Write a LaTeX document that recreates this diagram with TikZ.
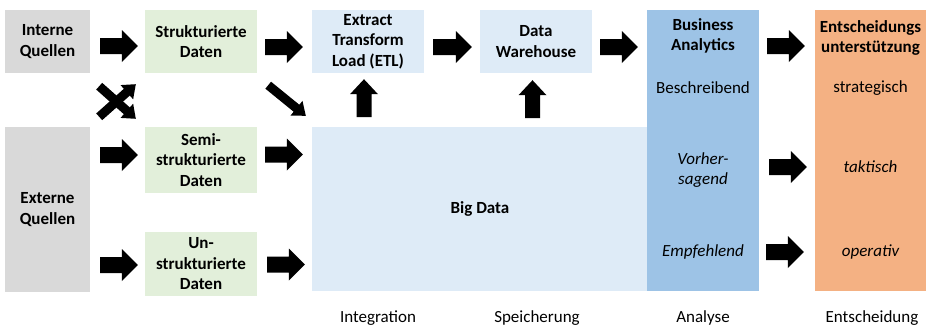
\documentclass[tikz,border=0pt]{standalone}
\usepackage{fontspec}
\setmainfont{Carlito}
\usetikzlibrary{calc}
\definecolor{grayb}{HTML}{D9D9D9}
\definecolor{greenb}{HTML}{E2EFDA}
\definecolor{blueb}{HTML}{DEEBF7}
\definecolor{bab}{HTML}{9DC3E6}
\definecolor{orb}{HTML}{F4B183}
\tikzset{
  blockarrow/.style n args={3}{fill=black, draw=none, to path={
    ($(\tikztostart)!#1!90:(\tikztotarget)$) --
    ($(\tikztotarget)!#3!(\tikztostart)!#1!-90:(\tikztostart)$) --
    ($(\tikztotarget)!#3!(\tikztostart)!#2!-90:(\tikztostart)$) --
    (\tikztotarget) --
    ($(\tikztotarget)!#3!(\tikztostart)!#2!90:(\tikztostart)$) --
    ($(\tikztotarget)!#3!(\tikztostart)!#1!90:(\tikztostart)$) --
    ($(\tikztostart)!#1!-90:(\tikztotarget)$) -- cycle}},
  bigarrow/.style={blockarrow={8pt}{16pt}{16pt}},
  uparrow/.style={blockarrow={7.5pt}{14pt}{15pt}},
  diagarrow/.style={blockarrow={4.5pt}{9.5pt}{12pt}},
  box/.style={inner sep=0pt, align=center, font=\fontsize{17}{20.5}\selectfont\bfseries},
  btext/.style={inner sep=0pt, align=center, font=\fontsize{17}{20.5}\selectfont\bfseries},
  rtext/.style={inner sep=0pt, align=center, font=\fontsize{17}{20.5}\selectfont},
  itext/.style={inner sep=0pt, align=center, font=\fontsize{17}{20.5}\selectfont\itshape}
}
\begin{document}
\begin{tikzpicture}[x=1pt,y=-1pt]
\useasboundingbox[fill=white] (0,0) rectangle (927,327);
% boxes
\node[box, fill=grayb, minimum width=85pt, minimum height=63pt] (iq) at (47.5,41.5) {Interne\\Quellen};
\node[box, fill=grayb, minimum width=85pt, minimum height=165pt] (eq) at (47.5,209.5) {Externe\\Quellen};
\node[box, fill=greenb, minimum width=112pt, minimum height=63pt] (sd) at (201,41.5) {Strukturierte\\Daten};
\node[box, fill=greenb, minimum width=112pt, minimum height=66pt] (ssd) at (201,160) {Semi-\\strukturierte\\Daten};
\node[box, fill=greenb, minimum width=112pt, minimum height=64pt] (usd) at (201,264) {Un-\\strukturierte\\Daten};
\node[box, fill=blueb, minimum width=112pt, minimum height=63pt] (etl) at (368,41.5) {Extract\\Transform\\Load (ETL)};
\node[box, fill=blueb, minimum width=112pt, minimum height=63pt] (dw) at (536,41.5) {Data\\Warehouse};
\node[box, fill=blueb, minimum width=336pt, minimum height=164pt] (bd) at (480,209) {Big Data};
\node[box, fill=bab, minimum width=112pt, minimum height=281pt] (ba) at (703,150.5) {};
\node[box, fill=orb, minimum width=111pt, minimum height=281pt] (ent) at (870.5,150.5) {};
% texts in BA and decision
\node[btext] (bat) at (703,36) {Business\\Analytics};
\node[rtext] (besch) at (703,88) {Beschreibend};
\node[itext] (vor) at (703,170) {Vorher-\\sagend};
\node[itext] (emp) at (703,252) {Empfehlend};
\node[btext] (entt) at (870.5,38) {Entscheidungs\\unterstützung};
\node[rtext] (strat) at (870.5,88) {strategisch};
\node[itext] (tak) at (870.5,167) {taktisch};
\node[itext] (op) at (870.5,252) {operativ};
% bottom labels
\node[rtext] (lint) at (378,318) {Integration};
\node[rtext] (lspe) at (537,318) {Speicherung};
\node[rtext] (lana) at (703,318) {Analyse};
\node[rtext] (lent) at (872,318) {Entscheidung};
% arrow end points
\coordinate (a1s) at ($(iq.east)+(10,4.5)$);
\coordinate (a1e) at ($(sd.west)+(-7,4.5)$);
\coordinate (a2s) at ($(sd.east)+(8,5.5)$);
\coordinate (a2e) at ($(etl.west)+(-9,5.5)$);
\coordinate (a3s) at ($(etl.east)+(9,5.5)$);
\coordinate (a3e) at ($(dw.west)+(-8,5.5)$);
\coordinate (a4s) at ($(dw.east)+(8,5.5)$);
\coordinate (a4e) at ($(ba.west |- dw.west)+(-9,5.5)$);
\coordinate (a5s) at ($(ba.east |- dw.east)+(8,4.5)$);
\coordinate (a5e) at ($(ent.west |- dw.east)+(-10,4.5)$);
\coordinate (a6s) at ($(eq.east |- ssd.west)+(10,-5)$);
\coordinate (a6e) at ($(ssd.west)+(-7,-5)$);
\coordinate (a7s) at ($(eq.east |- usd.west)+(10,1)$);
\coordinate (a7e) at ($(usd.west)+(-7,1)$);
\coordinate (a8s) at ($(ssd.east)+(8,-5.5)$);
\coordinate (a8e) at ($(bd.west |- ssd.east)+(-9,-5.5)$);
\coordinate (a9s) at ($(usd.east)+(10,0.5)$);
\coordinate (a9e) at ($(bd.west |- usd.east)+(-7,0.5)$);
\coordinate (a10s) at ($(ba.east |- tak)+(10,0)$);
\coordinate (a10e) at ($(ent.west |- tak)+(-8,0)$);
\coordinate (a11s) at ($(ba.east |- op)+(7,0)$);
\coordinate (a11e) at ($(ent.west |- op)+(-11,0)$);
\coordinate (a12s) at ($(etl.south)+(-4,44)$);
\coordinate (a12e) at ($(etl.south)+(-4,6)$);
\coordinate (a13s) at ($(dw.south)+(-3.5,45)$);
\coordinate (a13e) at ($(dw.south)+(-3.5,7)$);
\coordinate (a14s) at ($(sd.south east)+(11,12)$);
\coordinate (a14e) at ($(bd.north west)+(-6,-11)$);
\coordinate (a15s) at ($(iq.south east)+(9,13)$);
\coordinate (a15e) at ($(ssd.north west)+(-9,-8)$);
\coordinate (a16s) at ($(eq.north east)+(9,-10)$);
\coordinate (a16e) at ($(sd.south west)+(-9,11)$);
% arrows
\path[bigarrow] (a1s) to (a1e);
\path[bigarrow] (a2s) to (a2e);
\path[bigarrow] (a3s) to (a3e);
\path[bigarrow] (a4s) to (a4e);
\path[bigarrow] (a5s) to (a5e);
\path[bigarrow] (a6s) to (a6e);
\path[bigarrow] (a7s) to (a7e);
\path[bigarrow] (a8s) to (a8e);
\path[bigarrow] (a9s) to (a9e);
\path[bigarrow] (a10s) to (a10e);
\path[bigarrow] (a11s) to (a11e);
\path[uparrow] (a12s) to (a12e);
\path[uparrow] (a13s) to (a13e);
\path[diagarrow] (a14s) to (a14e);
\path[diagarrow] (a15s) to (a15e);
\path[diagarrow] (a16s) to (a16e);
\end{tikzpicture}
\end{document}
